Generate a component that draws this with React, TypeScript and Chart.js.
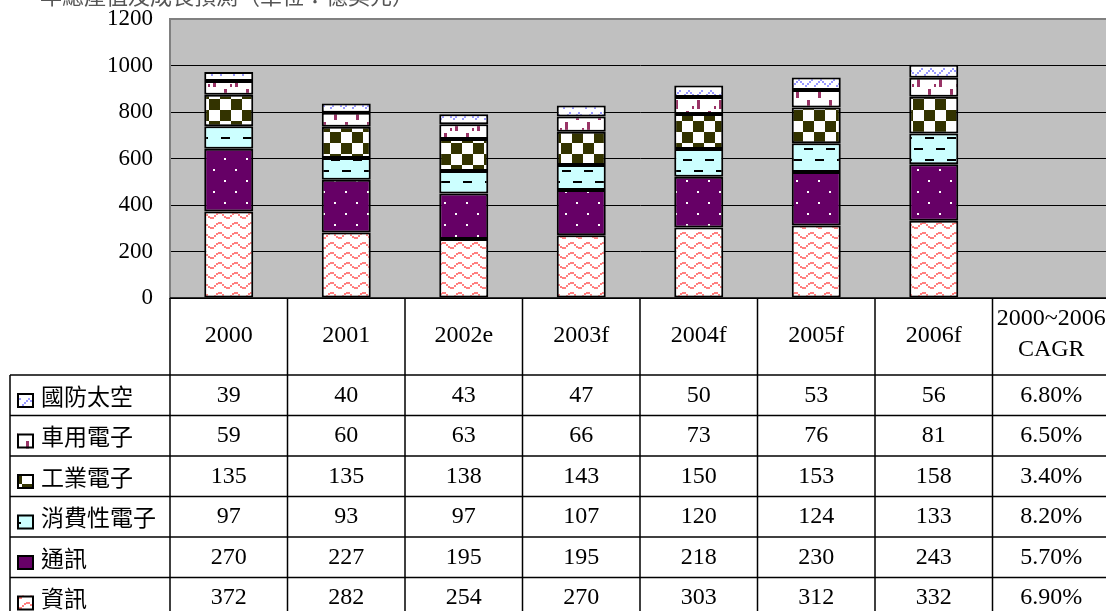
import React, { useEffect, useRef } from 'react';
import { Chart, registerables } from 'chart.js';

Chart.register(...registerables);

// ---------- data ----------
const categories = ['2000', '2001', '2002e', '2003f', '2004f', '2005f', '2006f', '2000~2006 CAGR'];
const seriesNames = ['國防太空', '車用電子', '工業電子', '消費性電子', '通訊', '資訊'];
const defense = [39, 40, 43, 47, 50, 53, 56];
const automotive = [59, 60, 63, 66, 73, 76, 81];
const industrial = [135, 135, 138, 143, 150, 153, 158];
const consumer = [97, 93, 97, 107, 120, 124, 133];
const communication = [270, 227, 195, 195, 218, 230, 243];
const information = [372, 282, 254, 270, 303, 312, 332];
const cagr = ['6.80%', '6.50%', '3.40%', '8.20%', '5.70%', '6.90%'];
const yMin = 0;
const yMax = 1200;
const yStep = 200;
const titleText = '年總產值及成長預測（單位：億美元）';

// ---------- patterns ----------
function makeTile(w: number, h: number, draw: (c: CanvasRenderingContext2D) => void) {
  const cv = document.createElement('canvas');
  cv.width = w;
  cv.height = h;
  const c = cv.getContext('2d')!;
  draw(c);
  return cv;
}

function buildPatterns(ctx: CanvasRenderingContext2D) {
  const wave = makeTile(16, 10, (c) => {
    c.fillStyle = '#ffffff';
    c.fillRect(0, 0, 16, 10);
    c.fillStyle = '#ff8080';
    const pts = [
      [0, 6], [2, 7], [4, 7], [6, 5], [8, 3], [10, 2], [12, 2], [14, 4],
    ];
    pts.forEach(([x, y]) => c.fillRect(x, y, 2, 2));
  });
  const dots = makeTile(22, 22, (c) => {
    c.fillStyle = '#660066';
    c.fillRect(0, 0, 22, 22);
    c.fillStyle = '#ffffff';
    c.fillRect(4, 4, 2, 2);
    c.fillRect(15, 15, 2, 2);
  });
  const dashes = makeTile(22, 22, (c) => {
    c.fillStyle = '#ccffff';
    c.fillRect(0, 0, 22, 22);
    c.fillStyle = '#000000';
    c.fillRect(1, 5, 9, 2);
    c.fillRect(12, 16, 9, 2);
  });
  const checker = makeTile(22, 22, (c) => {
    c.fillStyle = '#ffffff';
    c.fillRect(0, 0, 22, 22);
    c.fillStyle = '#333300';
    c.fillRect(0, 0, 11, 11);
    c.fillRect(11, 11, 11, 11);
  });
  const vdash = makeTile(22, 22, (c) => {
    c.fillStyle = '#ffffff';
    c.fillRect(0, 0, 22, 22);
    c.fillStyle = '#993366';
    c.fillRect(4, 1, 3, 9);
    c.fillRect(15, 12, 3, 9);
    c.fillRect(10, 18, 2, 3);
  });
  const zig = makeTile(22, 11, (c) => {
    c.fillStyle = '#ffffff';
    c.fillRect(0, 0, 22, 11);
    c.fillStyle = '#9999ff';
    const pts = [[0, 8], [2, 6], [4, 4], [6, 2], [8, 4], [10, 6], [13, 8], [15, 6], [17, 4], [19, 2]];
    pts.forEach(([x, y]) => c.fillRect(x, y, 2, 2));
  });
  return {
    info: ctx.createPattern(wave, 'repeat')!,
    comm: ctx.createPattern(dots, 'repeat')!,
    consumer: ctx.createPattern(dashes, 'repeat')!,
    industrial: ctx.createPattern(checker, 'repeat')!,
    auto: ctx.createPattern(vdash, 'repeat')!,
    defense: ctx.createPattern(zig, 'repeat')!,
  };
}

const SERIF = '"Liberation Serif", "Times New Roman", serif';
const CJK = '"Noto Sans CJK TC", "Noto Sans CJK SC", sans-serif';

export default function App() {
  const ref = useRef<HTMLCanvasElement | null>(null);

  useEffect(() => {
    document.documentElement.style.overflow = 'hidden';
    document.body.style.margin = '0';
    document.body.style.overflow = 'hidden';
    const canvas = ref.current!;
    const ctx0 = canvas.getContext('2d')!;
    const p = buildPatterns(ctx0);
    const rowFills = [p.defense, p.auto, p.industrial, p.consumer, p.comm, p.info];

    const tablePlugin = {
      id: 'tablePlugin',
      beforeDraw(chart: any) {
        const { ctx, chartArea } = chart;
        ctx.save();
        ctx.fillStyle = '#ffffff';
        ctx.fillRect(0, 0, chart.width, chart.height);
        ctx.fillStyle = '#c0c0c0';
        ctx.fillRect(chartArea.left, chartArea.top, chartArea.right - chartArea.left, chartArea.bottom - chartArea.top);
        // title (mostly cut off at the top edge)
        ctx.fillStyle = '#555555';
        ctx.font = `22px ${CJK}`;
        ctx.textAlign = 'left';
        ctx.textBaseline = 'alphabetic';
        ctx.fillText(titleText, 40, 4);
        ctx.restore();
      },
      afterDraw(chart: any) {
        const { ctx, chartArea } = chart;
        const { left, right, bottom } = chartArea;
        const n = categories.length;
        const colW = (right - left) / n;
        const headerBottom = 375;
        const rowH = 40.5;
        const tableBottom = headerBottom + rowH * seriesNames.length;
        ctx.save();
        ctx.strokeStyle = '#000000';
        ctx.lineWidth = 1.5;
        // axis line / table top
        ctx.beginPath();
        ctx.moveTo(left, bottom);
        ctx.lineTo(right + 5, bottom);
        ctx.stroke();
        // vertical column lines
        for (let k = 0; k <= n; k++) {
          const x = left + k * colW;
          ctx.beginPath();
          ctx.moveTo(x, bottom);
          ctx.lineTo(x, tableBottom);
          ctx.stroke();
        }
        // left label column border
        ctx.beginPath();
        ctx.moveTo(10, headerBottom);
        ctx.lineTo(10, tableBottom);
        ctx.stroke();
        // horizontal row lines
        for (let r = 0; r <= seriesNames.length; r++) {
          const y = headerBottom + r * rowH;
          ctx.beginPath();
          ctx.moveTo(10, y);
          ctx.lineTo(right + 5, y);
          ctx.stroke();
        }
        // header labels
        ctx.fillStyle = '#000000';
        ctx.font = `24px ${SERIF}`;
        ctx.textAlign = 'center';
        ctx.textBaseline = 'middle';
        categories.forEach((c, i) => {
          const cx = chart.scales.x.getPixelForValue(i);
          if (c.includes(' ')) {
            const parts = c.split(' ');
            ctx.fillText(parts[0], cx, 319);
            ctx.fillText(parts[1], cx, 350);
          } else {
            ctx.fillText(c, cx, 336);
          }
        });
        // rows
        const rowValues = [defense, automotive, industrial, consumer, communication, information];
        rowValues.forEach((vals, r) => {
          const top = headerBottom + r * rowH;
          const cy = top + rowH / 2;
          ctx.font = `24px ${SERIF}`;
          ctx.textAlign = 'center';
          ctx.fillStyle = '#000000';
          vals.forEach((v, i) => {
            ctx.fillText(String(v), chart.scales.x.getPixelForValue(i), cy);
          });
          ctx.fillText(cagr[r], chart.scales.x.getPixelForValue(n - 1), cy);
          // swatch
          ctx.fillStyle = rowFills[r];
          ctx.fillRect(17, top + 18, 17, 15);
          ctx.lineWidth = 2;
          ctx.strokeRect(18, top + 19, 15, 13);
          ctx.lineWidth = 1.5;
          // label
          ctx.fillStyle = '#000000';
          ctx.font = `23px ${CJK}`;
          ctx.textAlign = 'left';
          ctx.fillText(seriesNames[r], 41, cy + 1);
        });
        ctx.restore();
      },
    };

    const common = { borderColor: '#000000', borderWidth: 2, borderSkipped: false as const, barPercentage: 0.417, categoryPercentage: 1 };
    const chart = new Chart(canvas, {
      type: 'bar',
      data: {
        labels: categories,
        datasets: [
          { label: seriesNames[5], data: information, backgroundColor: p.info, ...common },
          { label: seriesNames[4], data: communication, backgroundColor: p.comm, ...common },
          { label: seriesNames[3], data: consumer, backgroundColor: p.consumer, ...common },
          { label: seriesNames[2], data: industrial, backgroundColor: p.industrial, ...common },
          { label: seriesNames[1], data: automotive, backgroundColor: p.auto, ...common },
          { label: seriesNames[0], data: defense, backgroundColor: p.defense, ...common },
        ],
      },
      options: {
        animation: false,
        responsive: false,
        devicePixelRatio: 1,
        layout: { padding: { left: 0, top: 19, right: 2, bottom: 313 } },
        plugins: { legend: { display: false }, tooltip: { enabled: false } },
        scales: {
          x: { stacked: true, display: false },
          y: {
            stacked: true,
            min: yMin,
            max: yMax,
            ticks: {
              stepSize: yStep,
              color: '#000000',
              font: { family: SERIF, size: 23 },
              padding: 17,
              callback: (v: any) => String(v),
            },
            grid: {
              drawTicks: false,
              color: (c: any) => (c.tick && c.tick.value === yMax ? '#808080' : '#000000'),
              lineWidth: (c: any) => (c.tick && c.tick.value === yMax ? 2 : 1),
            },
            border: { display: true, color: '#808080', width: 2 },
            afterFit: (s: any) => {
              s.width = 170;
              s.paddingTop = 0;
              s.paddingBottom = 0;
            },
          },
        },
      },
      plugins: [tablePlugin],
    });
    return () => chart.destroy();
  }, []);

  return (
    <div style={{ position: 'absolute', left: 0, top: 0, width: 1106, height: 611, overflow: 'hidden' }}>
      <canvas ref={ref} width={1112} height={611} style={{ display: 'block', width: 1112, height: 611 }} />
    </div>
  );
}
